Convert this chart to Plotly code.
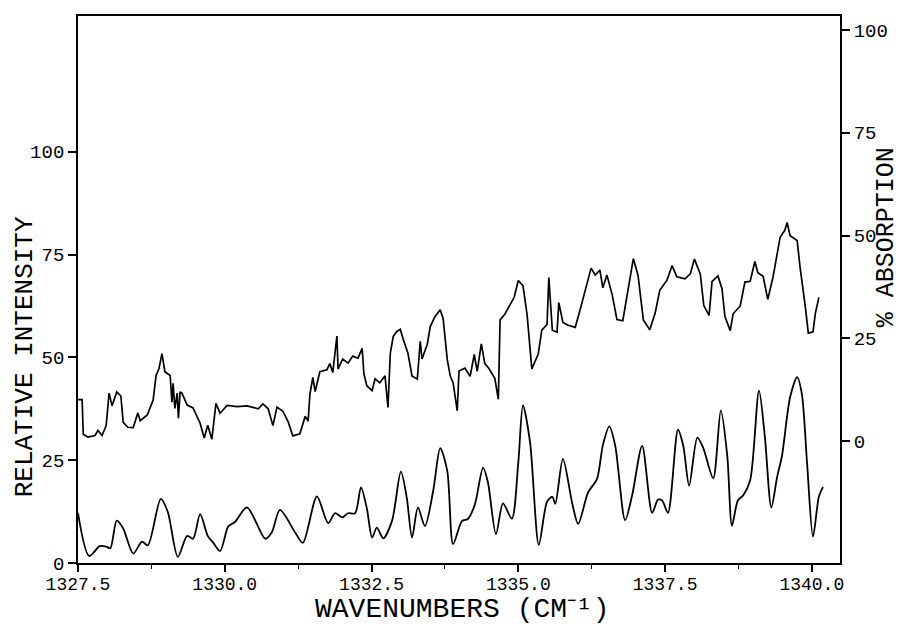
import plotly.graph_objects as go

# Lower trace: relative intensity (left axis)
wn_rel = [1327.50,1327.69,1327.87,1327.98,1328.05,1328.16,1328.27,1328.44,1328.59,1328.69,
          1328.91,1329.03,1329.20,1329.36,1329.46,1329.58,1329.71,1329.80,1329.92,1330.06,
          1330.17,1330.38,1330.69,1330.80,1330.94,1331.20,1331.33,1331.57,1331.76,1331.88,
          1332.00,1332.10,1332.22,1332.32,1332.42,1332.51,1332.59,1332.70,1332.85,1333.00,
          1333.10,1333.19,1333.29,1333.41,1333.55,1333.67,1333.79,1333.89,1334.04,1334.14,
          1334.26,1334.40,1334.48,1334.62,1334.74,1334.89,1335.00,1335.08,1335.20,1335.35,
          1335.49,1335.58,1335.63,1335.76,1335.92,1336.02,1336.19,1336.34,1336.44,1336.55,
          1336.65,1336.82,1336.94,1337.11,1337.28,1337.38,1337.45,1337.55,1337.72,1337.81,
          1337.91,1338.05,1338.15,1338.32,1338.45,1338.56,1338.64,1338.74,1338.83,1338.95,
          1339.10,1339.20,1339.31,1339.41,1339.49,1339.63,1339.75,1339.83,1339.92,1340.02,
          1340.12,1340.19]
rel_intensity = [12.1,1.7,4.1,4.0,3.6,10.3,8.4,2.3,5.2,4.3,
                 15.6,12.4,1.5,6.6,5.9,11.9,6.6,5.0,2.9,8.9,
                 9.9,13.5,5.9,7.4,12.9,7.4,4.9,16.2,9.7,12.1,
                 11.1,12.1,12.1,18.4,13.3,6.2,8.6,6.0,10.3,22.2,
                 15.9,6.2,13.5,9.0,17.5,27.9,22.4,4.6,10.2,10.7,
                 14.2,23.2,19.8,7.0,14.5,10.8,24.4,38.3,29.4,4.4,
                 14.9,16.1,14.4,25.3,14.4,9.5,17.2,20.4,28.6,33.2,
                 28.6,10.4,16.5,28.5,12.2,15.4,15.2,12.2,32.4,28.5,
                 18.8,30.5,28.0,20.6,37.1,26.0,9.1,15.2,16.4,20.1,
                 41.9,30.7,13.5,21.0,25.9,40.3,45.2,41.1,24.1,6.4,
                 16.1,18.5]

# Upper trace: % absorption (right axis)
wn_abs = [1327.50,1327.57,1327.59,1327.67,1327.79,1327.84,1327.91,1327.98,1328.03,1328.08,
          1328.16,1328.23,1328.27,1328.35,1328.44,1328.52,1328.56,1328.68,1328.78,1328.83,
          1328.88,1328.93,1328.98,1329.07,1329.10,1329.12,1329.15,1329.19,1329.21,1329.24,
          1329.27,1329.36,1329.46,
          1329.58,1329.65,1329.71,1329.78,1329.85,1329.92,1330.04,1330.21,1330.38,1330.57,
          1330.65,1330.74,1330.82,1330.89,1330.99,1331.08,1331.16,1331.28,1331.37,1331.42,
          1331.45,1331.50,1331.54,1331.62,1331.74,1331.79,1331.84,1331.91,1331.93,1332.01,
          1332.10,1332.18,1332.27,1332.34,1332.37,1332.42,1332.51,1332.56,1332.64,1332.73,
          1332.78,1332.82,1332.87,1332.93,1332.99,1333.04,1333.12,1333.19,1333.28,1333.33,
          1333.36,1333.45,1333.50,1333.58,1333.67,1333.72,1333.79,1333.84,1333.89,1333.96,
          1333.99,1334.09,1334.18,1334.25,1334.30,1334.37,1334.43,1334.50,1334.60,1334.66,
          1334.69,1334.77,1334.86,1334.93,1335.00,1335.08,1335.15,1335.23,1335.34,1335.40,
          1335.49,1335.52,1335.58,1335.66,1335.69,1335.76,1335.85,1335.97,1336.05,1336.17,
          1336.24,1336.31,1336.39,1336.44,1336.51,1336.60,1336.68,1336.78,1336.87,1336.96,
          1337.04,1337.13,1337.24,1337.33,1337.41,1337.53,1337.62,1337.70,1337.84,1337.93,
          1338.00,1338.10,1338.16,1338.25,1338.30,1338.40,1338.47,1338.52,1338.61,1338.66,
          1338.78,1338.86,1338.95,1339.03,1339.08,1339.17,1339.25,1339.34,1339.46,1339.54,
          1339.58,1339.63,1339.75,1339.80,1339.89,1339.94,1340.02,1340.06,1340.12]
pct_absorption = [10.1,10.1,1.7,1.0,1.4,2.6,1.4,3.8,11.7,8.6,
                  12.0,11.0,4.6,3.4,3.3,6.9,5.0,6.4,10.0,16.0,
                  17.7,21.3,16.9,16.0,9.5,14.1,8.0,11.7,5.6,12.0,
                  11.7,8.8,8.1,
                  4.4,0.8,3.9,0.5,9.2,6.8,8.7,8.4,8.6,7.9,
                  9.1,7.9,3.8,8.3,7.3,4.7,1.3,1.8,6.1,4.9,
                  11.4,15.5,12.1,16.9,17.4,18.9,16.7,25.6,17.6,20.0,
                  19.0,20.7,20.2,22.6,16.4,13.5,12.3,15.2,14.2,15.9,
                  8.2,21.4,25.5,26.7,27.2,24.8,21.4,15.9,15.1,24.3,
                  20.0,23.6,27.9,30.3,32.0,29.8,19.9,15.9,14.2,7.4,
                  17.1,17.8,15.8,21.1,17.0,23.7,18.9,17.7,15.3,10.2,
                  29.5,30.9,33.3,35.0,39.1,37.8,30.8,17.6,21.2,27.0,
                  28.4,39.8,27.0,26.5,33.7,28.9,28.2,27.7,31.8,38.0,
                  42.1,40.4,41.6,37.3,40.4,35.6,29.6,29.3,36.5,44.4,
                  40.3,29.5,27.1,31.1,36.7,39.1,42.7,40.0,39.5,40.7,
                  44.3,40.7,33.0,30.6,38.8,40.2,37.1,30.3,26.9,31.0,
                  32.9,38.7,38.9,43.7,41.0,40.1,34.5,40.0,49.6,51.3,
                  53.2,50.0,48.8,42.3,32.6,26.3,26.6,31.1,35.0]

x_tickvals = [1327.5, 1330.0, 1332.5, 1335.0, 1337.5, 1340.0]
x_ticktext = ["1327.5", "1330.0", "1332.5", "1335.0", "1337.5", "1340.0"]
left_tickvals = [0, 25, 50, 75, 100]
right_tickvals = [0, 25, 50, 75, 100]

FONT = "Liberation Mono"

fig = go.Figure()
fig.add_trace(go.Scatter(x=wn_rel, y=rel_intensity, mode="lines", yaxis="y",
                         line=dict(color="black", width=1.8, shape="spline", smoothing=0.8),
                         showlegend=False))
fig.add_trace(go.Scatter(x=wn_abs, y=pct_absorption, mode="lines", yaxis="y2",
                         line=dict(color="black", width=1.7),
                         showlegend=False))

fig.update_layout(
    width=901, height=624,
    margin=dict(l=78, r=61, t=16, b=61),
    paper_bgcolor="white", plot_bgcolor="white",
    font=dict(family=FONT, color="black"),
    xaxis=dict(range=[1327.5, 1340.48], tickvals=x_tickvals, ticktext=x_ticktext,
               ticks="outside", ticklen=7, tickwidth=1.5, tickcolor="black",
               showline=True, linecolor="black", linewidth=1.8, mirror=True,
               showgrid=False, zeroline=False, ticklabelstandoff=-4,
               tickfont=dict(family=FONT, size=18, color="black"),
               minor=dict(dtick=1.25, tick0=1327.5, ticks="outside", ticklen=4,
                          tickwidth=1.2, tickcolor="black", showgrid=False)),
    yaxis=dict(range=[0, 133], tickvals=left_tickvals,
               ticks="outside", ticklen=8, tickwidth=1.5, tickcolor="black",
               showline=True, linecolor="black", linewidth=1.8,
               showgrid=False, zeroline=False,
               tickfont=dict(family=FONT, size=19, color="black")),
    yaxis2=dict(range=[-29.6, 103.4], tickvals=right_tickvals, overlaying="y", side="right",
                ticks="outside", ticklen=8, tickwidth=1.5, tickcolor="black",
                showline=True, linecolor="black", linewidth=1.8,
                showgrid=False, zeroline=False,
                tickfont=dict(family=FONT, size=19, color="black")),
)

fig.add_annotation(text="RELATIVE INTENSITY", xref="paper", yref="paper",
                   x=-0.0702, y=0.377, xanchor="center", yanchor="middle",
                   textangle=-90, showarrow=False,
                   font=dict(family=FONT, size=26, color="black"))
fig.add_annotation(text="% ABSORPTION", xref="paper", yref="paper",
                   x=1.062, y=0.596, xanchor="center", yanchor="middle",
                   textangle=-90, showarrow=False,
                   font=dict(family=FONT, size=25, color="black"))
fig.add_annotation(text="WAVENUMBERS (CM⁻¹)", xref="paper", yref="paper",
                   x=0.504, y=-0.0855, xanchor="center", yanchor="middle",
                   showarrow=False,
                   font=dict(family=FONT, size=28, color="black"))

fig.write_html("out.html")
